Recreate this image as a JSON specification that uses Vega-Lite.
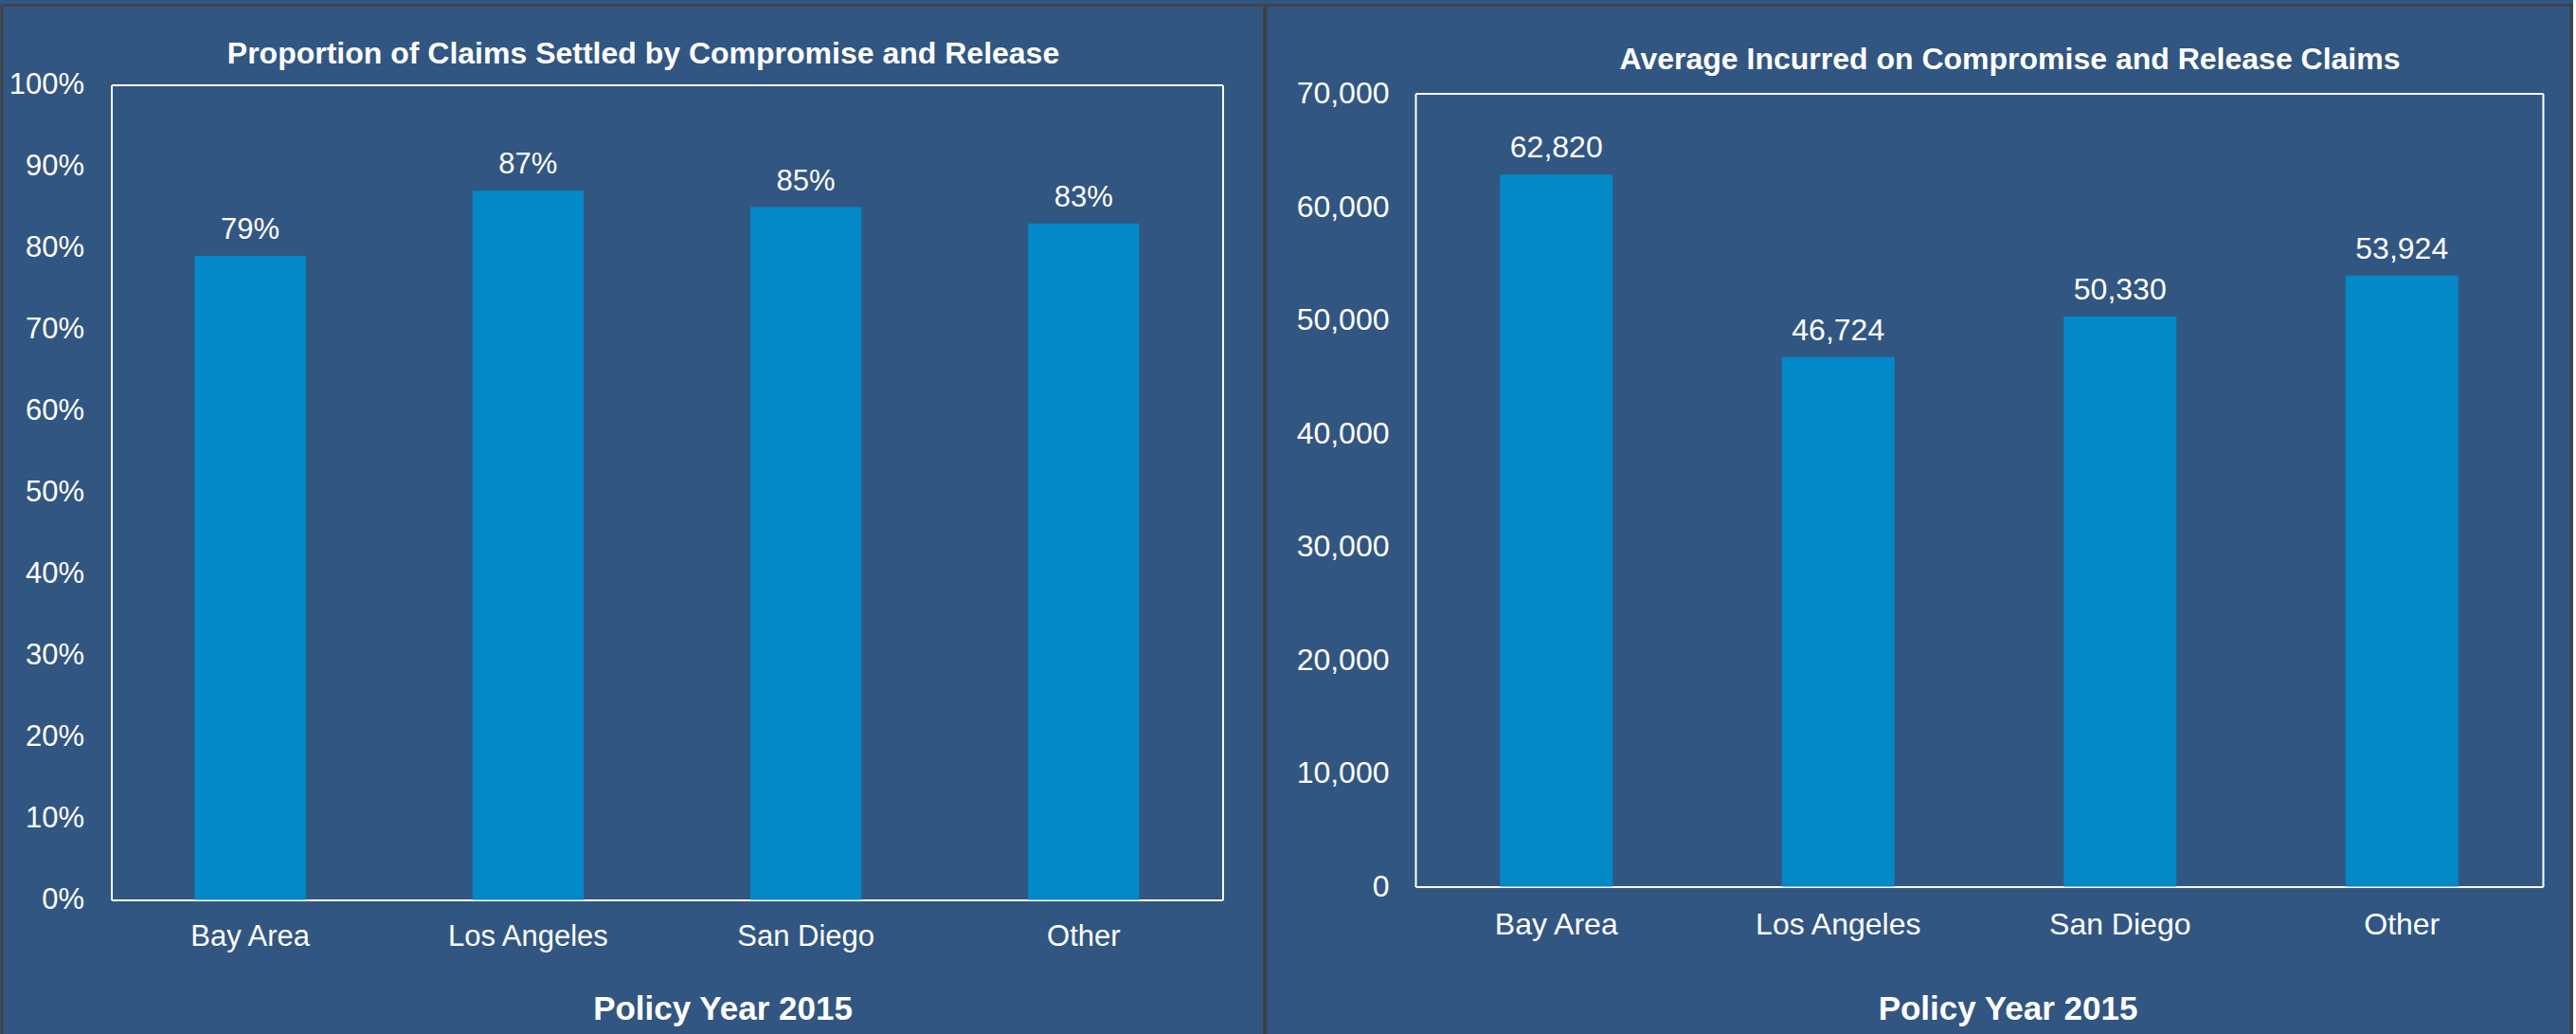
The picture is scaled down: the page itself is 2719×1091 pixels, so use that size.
{
  "$schema": "https://vega.github.io/schema/vega-lite/v6.json",
  "background": "#325682",
  "padding": {"left": 0, "top": 3.5, "right": 0, "bottom": 0},
  "spacing": -3,
  "config": {
    "view": {"fill": "#325682", "stroke": "#3f4349", "strokeWidth": 3},
    "font": "Liberation Sans",
    "axis": {
      "grid": false,
      "ticks": false,
      "domainColor": "#ffffff",
      "domainWidth": 2,
      "labelColor": "#ffffff",
      "titleColor": "#ffffff",
      "labelFont": "Liberation Sans",
      "titleFont": "Liberation Sans",
      "titleFontWeight": "bold",
      "titleBaseline": "alphabetic",
      "labelOverlap": false
    }
  },
  "hconcat": [
    {
      "width": 1332.5,
      "height": 1088,
      "data": {"values": [
        {"region": "Bay Area", "share": 0.79},
        {"region": "Los Angeles", "share": 0.87},
        {"region": "San Diego", "share": 0.85},
        {"region": "Other", "share": 0.83}
      ]},
      "layer": [
        {
          "mark": {"type": "bar", "color": "#0389C7"},
          "encoding": {
            "x": {"field": "region", "type": "nominal", "sort": null,
              "scale": {"range": [115.5, 1288.5], "paddingInner": 0.6, "paddingOuter": 0.3},
              "axis": {"orient": "bottom", "offset": -144, "labelAngle": 0, "labelFontSize": 31, "labelPadding": 24,
                "title": "Policy Year 2015", "titleFontSize": 35, "titleX": 760.5, "titleY": 126}},
            "y": {"field": "share", "type": "quantitative",
              "scale": {"domain": [0, 1], "range": [944, 84], "nice": false},
              "axis": {"orient": "left", "offset": -115.5, "format": ".0%", "values": [0, 0.1, 0.2, 0.3, 0.4, 0.5, 0.6, 0.7, 0.8, 0.9, 1],
                "labelFontSize": 31, "labelPadding": 29, "title": null}}
          }
        },
        {
          "mark": {"type": "text", "color": "#ffffff", "fontSize": 31, "baseline": "alphabetic", "dy": -18, "font": "Liberation Sans"},
          "encoding": {
            "x": {"field": "region", "type": "nominal", "sort": null,
              "axis": {"orient": "top", "offset": -84, "labels": false,
                "title": "Proportion of Claims Settled by Compromise and Release", "titleFontSize": 32, "titleX": 676.5, "titleY": -23}},
            "y": {"field": "share", "type": "quantitative",
              "axis": {"orient": "right", "offset": -44, "labels": false, "title": null}},
            "text": {"field": "share", "type": "quantitative", "format": ".0%"}
          }
        }
      ],
      "resolve": {"axis": {"x": "independent", "y": "independent"}}
    },
    {
      "width": 1378,
      "height": 1088,
      "data": {"values": [
        {"region": "Bay Area", "incurred": 62820},
        {"region": "Los Angeles", "incurred": 46724},
        {"region": "San Diego", "incurred": 50330},
        {"region": "Other", "incurred": 53924}
      ]},
      "layer": [
        {
          "mark": {"type": "bar", "color": "#0389C7"},
          "encoding": {
            "x": {"field": "region", "type": "nominal", "sort": null,
              "scale": {"range": [158, 1348], "paddingInner": 0.6, "paddingOuter": 0.3},
              "axis": {"orient": "bottom", "offset": -158, "labelAngle": 0, "labelFontSize": 32, "labelPadding": 25,
                "title": "Policy Year 2015", "titleFontSize": 35, "titleX": 783, "titleY": 140}},
            "y": {"field": "incurred", "type": "quantitative",
              "scale": {"domain": [0, 70000], "range": [930, 93], "nice": false},
              "axis": {"orient": "left", "offset": -158, "format": ",d", "values": [0, 10000, 20000, 30000, 40000, 50000, 60000, 70000],
                "labelFontSize": 32, "labelPadding": 28, "title": null}}
          }
        },
        {
          "mark": {"type": "text", "color": "#ffffff", "fontSize": 32, "baseline": "alphabetic", "dy": -18, "font": "Liberation Sans"},
          "encoding": {
            "x": {"field": "region", "type": "nominal", "sort": null,
              "axis": {"orient": "top", "offset": -93, "labels": false,
                "title": "Average Incurred on Compromise and Release Claims", "titleFontSize": 32, "titleX": 785, "titleY": -26}},
            "y": {"field": "incurred", "type": "quantitative",
              "axis": {"orient": "right", "offset": -30, "labels": false, "title": null}},
            "text": {"field": "incurred", "type": "quantitative", "format": ",d"}
          }
        }
      ],
      "resolve": {"axis": {"x": "independent", "y": "independent"}}
    }
  ]
}
